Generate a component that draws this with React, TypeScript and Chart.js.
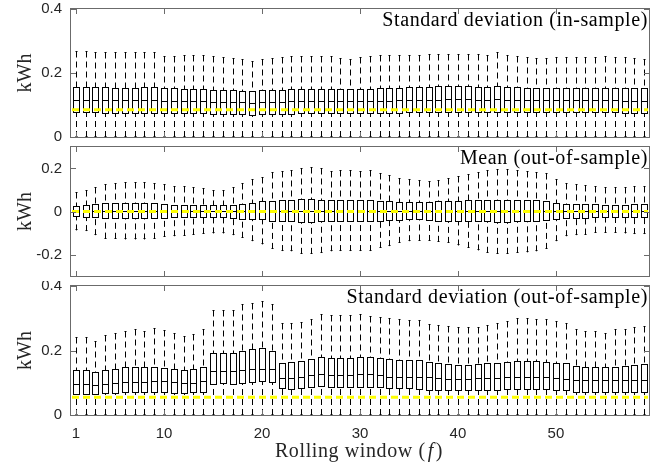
import React, { useEffect, useRef } from "react";
import { Chart, registerables } from "chart.js";

Chart.register(...registerables);

// Rolling window index (f)
const windows = [
  1, 2, 3, 4, 5, 6, 7, 8, 9, 10, 11, 12, 13, 14, 15, 16, 17, 18, 19, 20,
  21, 22, 23, 24, 25, 26, 27, 28, 29, 30, 31, 32, 33, 34, 35, 36, 37, 38, 39, 40,
  41, 42, 43, 44, 45, 46, 47, 48, 49, 50, 51, 52, 53, 54, 55, 56, 57, 58, 59,
];
const xTickWindows = [1, 10, 20, 30, 40, 50];

// Panel 1: standard deviation (in-sample), kWh
const sdInLower = [
  0, 0, 0, 0, 0, 0, 0, 0, 0, 0, 0, 0, 0, 0, 0, 0, 0, 0, 0, 0,
  0, 0, 0, 0, 0, 0, 0, 0, 0, 0, 0, 0, 0, 0, 0, 0, 0, 0, 0, 0,
  0, 0, 0, 0, 0, 0, 0, 0, 0, 0, 0, 0, 0, 0, 0, 0, 0, 0, 0,
];
const sdInQ1 = [
  0.077, 0.077, 0.077, 0.076, 0.076, 0.076, 0.076, 0.076, 0.076, 0.075,
  0.075, 0.075, 0.074, 0.074, 0.073, 0.073, 0.072, 0.071, 0.070, 0.071,
  0.072, 0.073, 0.073, 0.074, 0.074, 0.074, 0.074, 0.074, 0.074, 0.074,
  0.075, 0.075, 0.076, 0.076, 0.077, 0.077, 0.078, 0.078, 0.078, 0.078,
  0.078, 0.078, 0.078, 0.078, 0.078, 0.077, 0.077, 0.077, 0.077, 0.077,
  0.077, 0.077, 0.077, 0.077, 0.077, 0.077, 0.076, 0.076, 0.076,
];
const sdInMedian = [
  0.116, 0.116, 0.116, 0.115, 0.115, 0.115, 0.115, 0.115, 0.115, 0.114,
  0.113, 0.113, 0.112, 0.111, 0.110, 0.110, 0.109, 0.108, 0.107, 0.108,
  0.109, 0.110, 0.111, 0.111, 0.112, 0.112, 0.112, 0.111, 0.111, 0.112,
  0.113, 0.113, 0.114, 0.115, 0.116, 0.116, 0.117, 0.117, 0.118, 0.118,
  0.118, 0.117, 0.117, 0.118, 0.117, 0.116, 0.116, 0.115, 0.115, 0.115,
  0.115, 0.115, 0.115, 0.115, 0.115, 0.115, 0.114, 0.114, 0.114,
];
const sdInQ3 = [
  0.156, 0.156, 0.155, 0.155, 0.154, 0.154, 0.154, 0.155, 0.155, 0.153,
  0.152, 0.151, 0.150, 0.149, 0.148, 0.147, 0.146, 0.145, 0.144, 0.146,
  0.147, 0.148, 0.149, 0.150, 0.150, 0.150, 0.150, 0.149, 0.149, 0.150,
  0.151, 0.152, 0.153, 0.154, 0.155, 0.156, 0.157, 0.158, 0.158, 0.158,
  0.158, 0.157, 0.157, 0.158, 0.156, 0.155, 0.154, 0.153, 0.153, 0.153,
  0.153, 0.153, 0.153, 0.153, 0.153, 0.153, 0.152, 0.152, 0.152,
];
const sdInUpper = [
  0.270, 0.268, 0.267, 0.265, 0.265, 0.265, 0.266, 0.266, 0.267, 0.254,
  0.254, 0.255, 0.256, 0.255, 0.253, 0.250, 0.247, 0.243, 0.238, 0.245,
  0.248, 0.250, 0.252, 0.252, 0.253, 0.253, 0.252, 0.248, 0.245, 0.250,
  0.253, 0.255, 0.255, 0.256, 0.256, 0.257, 0.258, 0.258, 0.259, 0.259,
  0.260, 0.258, 0.257, 0.265, 0.255, 0.252, 0.250, 0.248, 0.248, 0.249,
  0.250, 0.250, 0.250, 0.251, 0.252, 0.250, 0.250, 0.248, 0.245,
];
const sdInReference = 0.085;

// Panel 2: mean (out-of-sample), kWh
const meanOutLower = [
  -0.088, -0.091, -0.110, -0.126, -0.127, -0.130, -0.130, -0.130, -0.127, -0.118,
  -0.115, -0.112, -0.107, -0.104, -0.102, -0.102, -0.110, -0.122, -0.138, -0.153,
  -0.174, -0.184, -0.185, -0.197, -0.197, -0.192, -0.185, -0.184, -0.184, -0.184,
  -0.184, -0.169, -0.161, -0.146, -0.138, -0.135, -0.137, -0.141, -0.146, -0.158,
  -0.169, -0.181, -0.192, -0.197, -0.197, -0.192, -0.190, -0.185, -0.174, -0.138,
  -0.115, -0.110, -0.107, -0.099, -0.098, -0.100, -0.102, -0.105, -0.105,
];
const meanOutQ1 = [
  -0.022, -0.024, -0.026, -0.031, -0.031, -0.032, -0.032, -0.031, -0.031, -0.029,
  -0.025, -0.024, -0.024, -0.024, -0.025, -0.025, -0.028, -0.033, -0.035, -0.037,
  -0.043, -0.045, -0.045, -0.048, -0.048, -0.046, -0.045, -0.044, -0.044, -0.044,
  -0.044, -0.043, -0.040, -0.038, -0.037, -0.037, -0.040, -0.042, -0.043, -0.044,
  -0.045, -0.045, -0.046, -0.047, -0.047, -0.046, -0.045, -0.044, -0.041, -0.034,
  -0.030, -0.029, -0.028, -0.025, -0.025, -0.025, -0.025, -0.026, -0.026,
];
const meanOutMedian = [
  0.002, 0.002, 0.003, 0.003, 0.002, 0.003, 0.002, 0.003, 0.002, 0.002,
  0.003, 0.002, 0.002, 0.002, 0.001, 0.002, 0.002, 0.002, 0.003, 0.003,
  0.002, 0.003, 0.003, 0.004, 0.004, 0.003, 0.003, 0.002, 0.003, 0.003,
  0.003, 0.002, 0.002, 0.003, 0.002, 0.002, 0.003, 0.003, 0.003, 0.004,
  0.003, 0.004, 0.004, 0.004, 0.003, 0.003, 0.003, 0.003, 0.002, 0.002,
  0.002, 0.002, 0.002, 0.002, 0.002, 0.002, 0.002, 0.002, 0.002,
];
const meanOutQ3 = [
  0.025, 0.028, 0.033, 0.040, 0.040, 0.041, 0.041, 0.040, 0.040, 0.037,
  0.032, 0.031, 0.030, 0.028, 0.028, 0.029, 0.031, 0.036, 0.040, 0.047,
  0.050, 0.053, 0.053, 0.056, 0.056, 0.054, 0.053, 0.052, 0.052, 0.052,
  0.052, 0.050, 0.047, 0.046, 0.045, 0.043, 0.046, 0.047, 0.048, 0.050,
  0.052, 0.053, 0.054, 0.055, 0.055, 0.054, 0.053, 0.052, 0.048, 0.040,
  0.037, 0.036, 0.035, 0.033, 0.032, 0.032, 0.032, 0.033, 0.033,
];
const meanOutUpper = [
  0.092, 0.098, 0.113, 0.126, 0.133, 0.136, 0.136, 0.136, 0.133, 0.130,
  0.118, 0.118, 0.113, 0.107, 0.102, 0.102, 0.113, 0.133, 0.152, 0.161,
  0.183, 0.188, 0.192, 0.203, 0.206, 0.200, 0.188, 0.192, 0.192, 0.188,
  0.192, 0.180, 0.171, 0.157, 0.152, 0.145, 0.141, 0.146, 0.157, 0.164,
  0.175, 0.183, 0.191, 0.199, 0.199, 0.192, 0.188, 0.183, 0.180, 0.152,
  0.133, 0.126, 0.121, 0.118, 0.115, 0.115, 0.115, 0.118, 0.118,
];
const meanOutReference = 0;

// Panel 3: standard deviation (out-of-sample), kWh
const sdOutLower = [
  0, 0, 0, 0, 0, 0, 0, 0, 0, 0, 0, 0, 0, 0, 0, 0, 0, 0, 0, 0,
  0, 0, 0, 0, 0, 0, 0, 0, 0, 0, 0, 0, 0, 0, 0, 0, 0, 0, 0, 0,
  0, 0, 0, 0, 0, 0, 0, 0, 0, 0, 0, 0, 0, 0, 0, 0, 0, 0, 0,
];
const sdOutQ1 = [
  0.065, 0.065, 0.064, 0.067, 0.069, 0.070, 0.071, 0.070, 0.071, 0.071,
  0.069, 0.067, 0.070, 0.072, 0.096, 0.098, 0.096, 0.098, 0.103, 0.105,
  0.103, 0.083, 0.081, 0.085, 0.088, 0.090, 0.088, 0.086, 0.086, 0.088,
  0.088, 0.086, 0.083, 0.083, 0.083, 0.082, 0.078, 0.076, 0.076, 0.076,
  0.076, 0.076, 0.078, 0.078, 0.080, 0.080, 0.080, 0.080, 0.080, 0.078,
  0.076, 0.072, 0.072, 0.072, 0.072, 0.072, 0.072, 0.072, 0.072,
];
const sdOutMedian = [
  0.096, 0.095, 0.093, 0.096, 0.100, 0.103, 0.103, 0.103, 0.105, 0.104,
  0.101, 0.100, 0.100, 0.105, 0.137, 0.137, 0.137, 0.139, 0.142, 0.143,
  0.142, 0.114, 0.114, 0.117, 0.124, 0.126, 0.124, 0.124, 0.124, 0.126,
  0.126, 0.124, 0.119, 0.119, 0.119, 0.119, 0.117, 0.114, 0.112, 0.112,
  0.112, 0.114, 0.114, 0.116, 0.117, 0.119, 0.119, 0.119, 0.117, 0.114,
  0.113, 0.109, 0.109, 0.109, 0.109, 0.109, 0.109, 0.110, 0.110,
];
const sdOutQ3 = [
  0.140, 0.140, 0.134, 0.140, 0.144, 0.148, 0.148, 0.148, 0.150, 0.147,
  0.142, 0.140, 0.142, 0.148, 0.191, 0.193, 0.191, 0.198, 0.204, 0.207,
  0.199, 0.162, 0.165, 0.167, 0.173, 0.179, 0.178, 0.176, 0.176, 0.179,
  0.179, 0.176, 0.173, 0.171, 0.169, 0.171, 0.165, 0.160, 0.158, 0.155,
  0.155, 0.158, 0.160, 0.162, 0.165, 0.168, 0.168, 0.167, 0.165, 0.162,
  0.160, 0.152, 0.150, 0.150, 0.148, 0.150, 0.152, 0.155, 0.158,
];
const sdOutUpper = [
  0.243, 0.243, 0.230, 0.248, 0.255, 0.260, 0.266, 0.262, 0.269, 0.264,
  0.253, 0.245, 0.250, 0.266, 0.326, 0.326, 0.326, 0.343, 0.348, 0.354,
  0.343, 0.284, 0.286, 0.289, 0.297, 0.313, 0.310, 0.310, 0.310, 0.313,
  0.308, 0.303, 0.300, 0.297, 0.295, 0.295, 0.282, 0.280, 0.276, 0.274,
  0.274, 0.274, 0.279, 0.284, 0.291, 0.300, 0.300, 0.297, 0.297, 0.292,
  0.286, 0.266, 0.262, 0.262, 0.253, 0.266, 0.266, 0.274, 0.276,
];
const sdOutReference = 0.055;

const unitTicks = [0, 0.2, 0.4];
const meanTicks = [-0.2, 0, 0.2];

const WIDTH = 651;
const PLOT_LEFT = 71;
const FRAME = "#6b6b6b";
const INK = "#262626";
const SERIF = '"Liberation Serif", "Times New Roman", serif';
const SANS = '"Liberation Sans", Arial, sans-serif';

type Panel = {
  title: string;
  lower: number[];
  q1: number[];
  median: number[];
  q3: number[];
  upper: number[];
  reference: number;
  yMin: number;
  yMax: number;
  yTicks: number[];
  top: number;
  height: number;
  padTop: number;
  xAxisHeight: number;
  showX: boolean;
};

const panels: Panel[] = [
  {
    title: "Standard deviation (in-sample)",
    lower: sdInLower, q1: sdInQ1, median: sdInMedian, q3: sdInQ3, upper: sdInUpper,
    reference: sdInReference, yMin: 0, yMax: 0.4, yTicks: unitTicks,
    top: 0, height: 142, padTop: 9, xAxisHeight: 5, showX: false,
  },
  {
    title: "Mean (out-of-sample)",
    lower: meanOutLower, q1: meanOutQ1, median: meanOutMedian, q3: meanOutQ3, upper: meanOutUpper,
    reference: meanOutReference, yMin: -0.3, yMax: 0.3, yTicks: meanTicks,
    top: 142, height: 139, padTop: 5, xAxisHeight: 5, showX: false,
  },
  {
    title: "Standard deviation (out-of-sample)",
    lower: sdOutLower, q1: sdOutQ1, median: sdOutMedian, q3: sdOutQ3, upper: sdOutUpper,
    reference: sdOutReference, yMin: 0, yMax: 0.4, yTicks: unitTicks,
    top: 281, height: 185, padTop: 5, xAxisHeight: 51, showX: true,
  },
];

const crisp = (v: number) => Math.round(v) + 0.5;

// Box outlines, whiskers, medians, reference line, frame, inward ticks and in-plot labels
const boxPlotPlugin = {
  id: "boxPlotExtras",
  afterDatasetsDraw(chart: any, _args: any, opts: any) {
    const panel: Panel = opts.panel;
    const { ctx, chartArea } = chart;
    const y = chart.scales.y;
    const meta = chart.getDatasetMeta(0);
    ctx.save();
    ctx.strokeStyle = "#000";
    ctx.lineWidth = 1;
    meta.data.forEach((bar: any, i: number) => {
      const cx = crisp(bar.x);
      const half = Math.round(bar.width / 2);
      const cap = Math.round(bar.width / 4);
      const yLow = y.getPixelForValue(panel.lower[i]);
      const yQ1 = crisp(y.getPixelForValue(panel.q1[i]));
      const yMed = crisp(y.getPixelForValue(panel.median[i]));
      const yQ3 = crisp(y.getPixelForValue(panel.q3[i]));
      const yUp = crisp(y.getPixelForValue(panel.upper[i]));
      // box and median
      ctx.setLineDash([]);
      ctx.strokeRect(cx - half, yQ3, half * 2, yQ1 - yQ3);
      ctx.beginPath();
      ctx.moveTo(cx - half, yMed);
      ctx.lineTo(cx + half, yMed);
      ctx.stroke();
      // dashed whiskers
      ctx.setLineDash([6, 4]);
      ctx.beginPath();
      ctx.moveTo(cx, yUp);
      ctx.lineTo(cx, yQ3);
      ctx.moveTo(cx, yLow);
      ctx.lineTo(cx, yQ1);
      ctx.stroke();
      // caps
      ctx.setLineDash([]);
      ctx.beginPath();
      ctx.moveTo(cx - cap, yUp);
      ctx.lineTo(cx + cap, yUp);
      ctx.moveTo(cx - cap, Math.round(yLow) - 0.5);
      ctx.lineTo(cx + cap, Math.round(yLow) - 0.5);
      ctx.stroke();
    });
    // reference level
    const yRef = y.getPixelForValue(panel.reference);
    ctx.strokeStyle = "#ffff00";
    ctx.lineWidth = 3;
    ctx.setLineDash([7, 4]);
    ctx.beginPath();
    ctx.moveTo(chartArea.left + 1, yRef);
    ctx.lineTo(chartArea.right - 1, yRef);
    ctx.stroke();
    ctx.restore();
  },
  afterDraw(chart: any, _args: any, opts: any) {
    const panel: Panel = opts.panel;
    const { ctx, chartArea } = chart;
    const { left, right, top, bottom } = chartArea;
    const x = chart.scales.x;
    const y = chart.scales.y;
    ctx.save();
    ctx.strokeStyle = FRAME;
    ctx.lineWidth = 1;
    ctx.setLineDash([]);
    ctx.strokeRect(crisp(left) - 1, crisp(top) - 1, Math.round(right - left) + 1, Math.round(bottom - top) + 1);
    const tick = 5;
    ctx.beginPath();
    x.ticks.forEach((_t: any, k: number) => {
      const px = crisp(x.getPixelForTick(k));
      ctx.moveTo(px, bottom);
      ctx.lineTo(px, bottom - tick);
      ctx.moveTo(px, top);
      ctx.lineTo(px, top + tick);
    });
    y.ticks.forEach((_t: any, k: number) => {
      const py = crisp(y.getPixelForTick(k));
      ctx.moveTo(left, py);
      ctx.lineTo(left + tick, py);
      ctx.moveTo(right, py);
      ctx.lineTo(right - tick, py);
    });
    ctx.stroke();

    ctx.fillStyle = "#000";
    ctx.font = `20px ${SERIF}`;
    (ctx as any).letterSpacing = "0.6px";
    ctx.textAlign = "right";
    ctx.textBaseline = "alphabetic";
    ctx.fillText(panel.title, right - 1, top + 17);

    if (panel.showX) {
      const parts = [
        { text: "Rolling window (", font: `20px ${SERIF}` },
        { text: "f", font: `italic 20px ${SERIF}` },
        { text: ")", font: `20px ${SERIF}` },
      ];
      const widths = parts.map((p) => {
        ctx.font = p.font;
        return ctx.measureText(p.text).width + 2;
      });
      const total = widths.reduce((a, b) => a + b, 0);
      let cursor = (left + right) / 2 - total / 2;
      ctx.textAlign = "left";
      ctx.fillStyle = INK;
      parts.forEach((p, k) => {
        ctx.font = p.font;
        ctx.fillText(p.text, cursor, 457 - panel.top);
        cursor += widths[k];
      });
    }
    ctx.restore();
  },
};

function BoxPanel({ panel }: { panel: Panel }) {
  const ref = useRef<HTMLCanvasElement | null>(null);
  useEffect(() => {
    if (!ref.current) return;
    const chart = new Chart(ref.current, {
      type: "bar",
      data: {
        labels: windows.map(String),
        datasets: [
          {
            // interquartile range per window; outlines are stroked by the plugin
            data: panel.q1.map((v, i) => [v, panel.q3[i]]) as any,
            backgroundColor: "rgba(255,255,255,0)",
            borderWidth: 0,
            borderSkipped: false,
            barPercentage: 0.6,
            categoryPercentage: 1,
          },
        ],
      },
      options: {
        responsive: false,
        animation: false,
        events: [],
        layout: { padding: { top: panel.padTop, right: 2, left: 0, bottom: 0 } },
        plugins: {
          legend: { display: false },
          tooltip: { enabled: false },
          boxPlotExtras: { panel },
        } as any,
        scales: {
          x: {
            type: "category",
            offset: true,
            grid: { display: false, drawTicks: false },
            border: { display: false },
            ticks: {
              display: panel.showX,
              autoSkip: false,
              maxRotation: 0,
              padding: 10,
              color: INK,
              font: { family: SANS, size: 15 },
            },
            afterBuildTicks: (scale: any) => {
              scale.ticks = scale.ticks.filter((t: any) => xTickWindows.includes(windows[t.value]));
            },
            afterFit: (scale: any) => {
              scale.height = panel.xAxisHeight;
              scale.paddingLeft = 0;
              scale.paddingRight = 0;
            },
          },
          y: {
            type: "linear",
            min: panel.yMin,
            max: panel.yMax,
            grid: { display: false, drawTicks: false },
            border: { display: false },
            ticks: {
              padding: 9,
              color: INK,
              font: { family: SANS, size: 15 },
              callback: (v: any) => String(Math.round(Number(v) * 10) / 10),
            },
            afterBuildTicks: (scale: any) => {
              scale.ticks = panel.yTicks.map((v) => ({ value: v }));
            },
            title: {
              display: true,
              text: "kWh",
              color: INK,
              font: { family: SERIF, size: 20 },
              padding: { top: 14, bottom: 0 },
            },
            afterFit: (scale: any) => {
              scale.width = PLOT_LEFT;
              scale.paddingTop = 0;
              scale.paddingBottom = 0;
            },
          },
        },
      },
      plugins: [boxPlotPlugin],
    });
    return () => chart.destroy();
  }, [panel]);
  return (
    <canvas
      ref={ref}
      width={WIDTH}
      height={panel.height}
      style={{ position: "absolute", left: 0, top: panel.top, width: WIDTH, height: panel.height }}
    />
  );
}

export default function App() {
  return (
    <div style={{ position: "fixed", left: 0, top: 0, width: WIDTH, height: 466, background: "#fff" }}>
      {panels.map((p) => (
        <BoxPanel key={p.title} panel={p} />
      ))}
    </div>
  );
}
